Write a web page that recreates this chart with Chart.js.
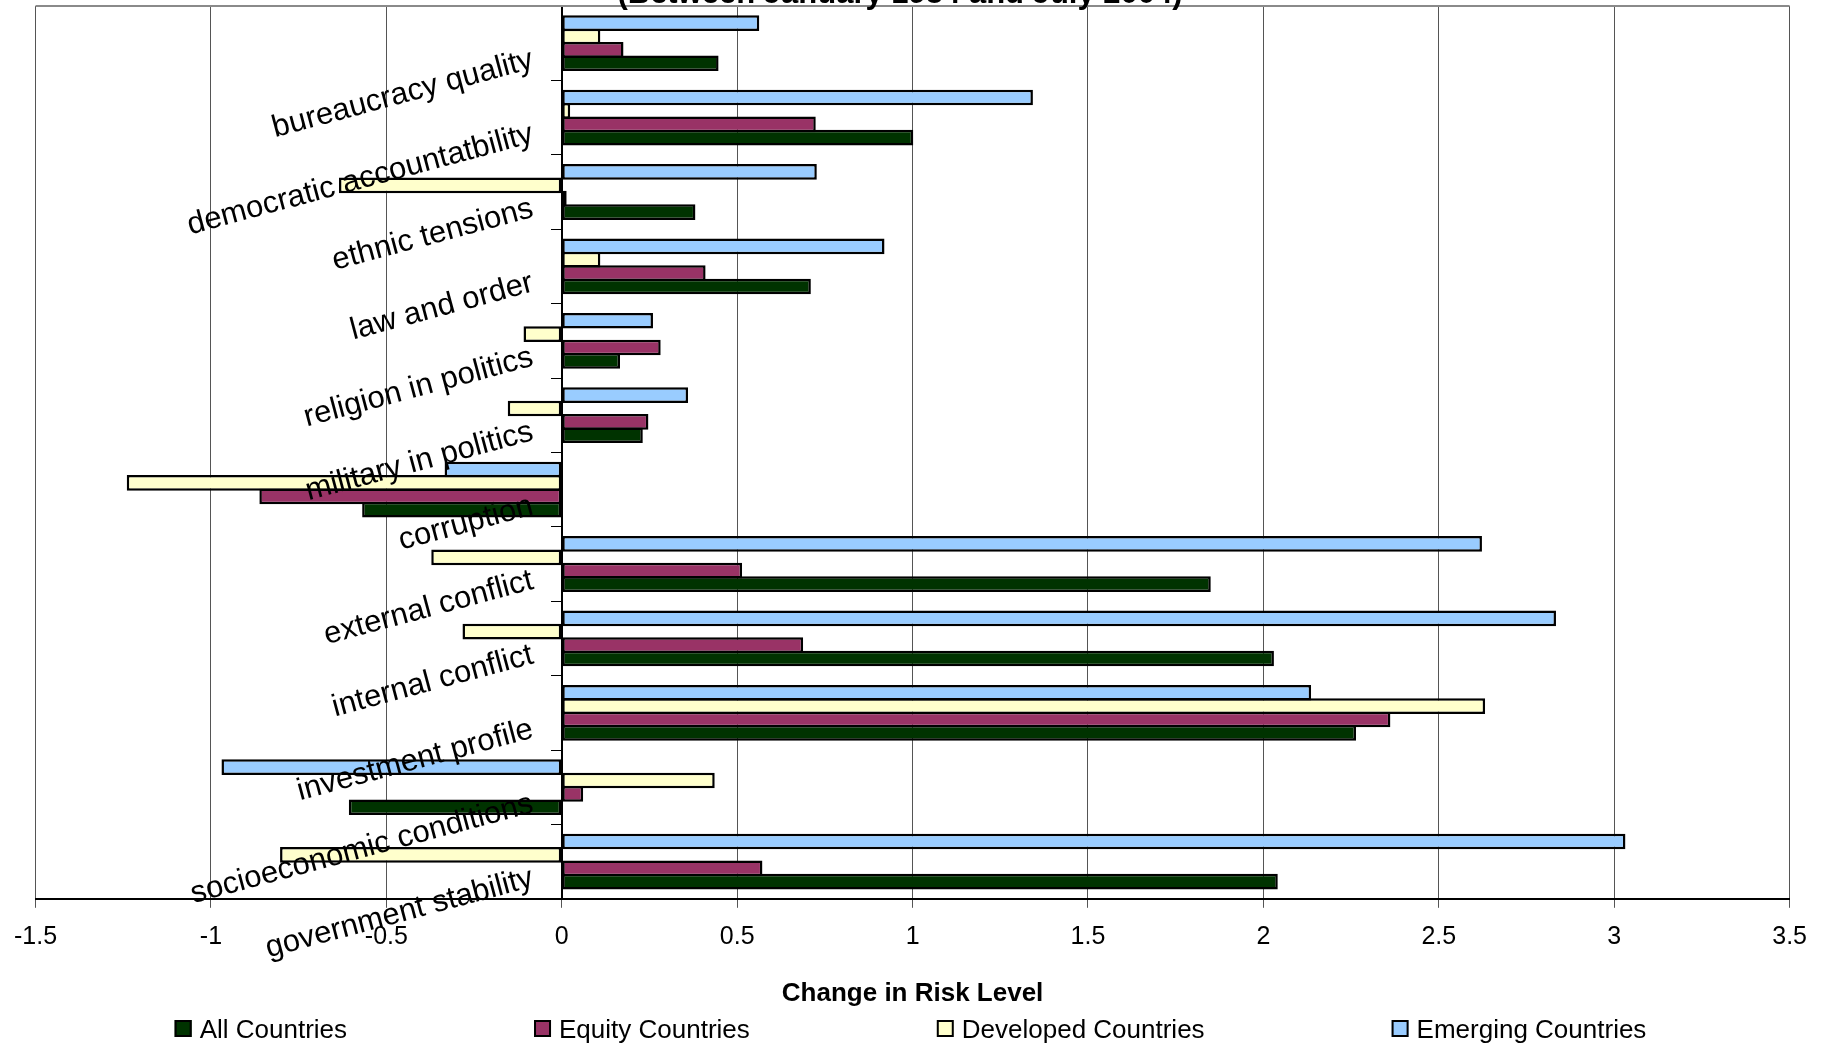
<!DOCTYPE html>
<html>
<head>
<meta charset="utf-8">
<title>Change in Risk Level</title>
<script src="https://cdn.jsdelivr.net/npm/chart.js@4/dist/chart.umd.min.js"></script>
<style>
  html, body { margin: 0; padding: 0; background: #ffffff; }
  #wrap { width: 1821px; height: 1046px; position: relative; }
</style>
</head>
<body>
<div id="wrap"><canvas id="chart"></canvas></div>
<script>
// ICRG risk components, listed from the top of the chart downwards
const categories = [
  'bureaucracy quality',
  'democratic accountatbility',
  'ethnic tensions',
  'law and order',
  'religion in politics',
  'military in politics',
  'corruption',
  'external conflict',
  'internal conflict',
  'investment profile',
  'socioeconomic conditions',
  'government stability'
];

// Change in risk level for each country group (same order as categories)
const allCountries       = [0.447, 1.002, 0.381, 0.710, 0.166, 0.231, -0.569, 1.850, 2.030, 2.264, -0.607, 2.041];
const equityCountries    = [0.176, 0.724, 0.014, 0.410, 0.282, 0.247, -0.862, 0.514, 0.688, 2.362, 0.061, 0.572];
const developedCountries = [0.110, 0.024, -0.635, 0.110, -0.109, -0.154, -1.240, -0.372, -0.283, 2.632, 0.436, -0.803];
const emergingCountries  = [0.563, 1.343, 0.727, 0.920, 0.260, 0.360, -0.334, 2.623, 2.834, 2.136, -0.970, 3.032];

const seriesNames = ['All Countries', 'Equity Countries', 'Developed Countries', 'Emerging Countries'];
const tickValues = [-1.5, -1, -0.5, 0, 0.5, 1, 1.5, 2, 2.5, 3, 3.5];

const chartTitle = '(Between January 1984 and July 2004)';
const axisTitle = 'Change in Risk Level';

const FONT = '"Liberation Sans", Arial, Helvetica, sans-serif';

// Gray frame along the top of the plot area
const plotFrame = {
  id: 'plotFrame',
  beforeDatasetsDraw(chart) {
    const { ctx, chartArea } = chart;
    ctx.save();
    ctx.strokeStyle = '#8a8a8a';
    ctx.lineWidth = 2;
    ctx.beginPath();
    ctx.moveTo(chartArea.left, chartArea.top);
    ctx.lineTo(chartArea.right, chartArea.top);
    ctx.stroke();
    ctx.restore();
  }
};

// Slanted category names next to the zero axis
const categoryLabels = {
  id: 'categoryLabels',
  afterDatasetsDraw(chart) {
    const { ctx, scales } = chart;
    const anchorX = scales.x.getPixelForValue(0) - 27;
    ctx.save();
    ctx.font = '31px ' + FONT;
    ctx.fillStyle = '#000000';
    ctx.textAlign = 'right';
    ctx.textBaseline = 'alphabetic';
    chart.data.labels.forEach((name, i) => {
      const py = scales.y.getPixelForValue(i) + 24.5;
      ctx.save();
      ctx.translate(anchorX, py);
      ctx.rotate(-15 * Math.PI / 180);
      ctx.fillText(name, 0, 0);
      ctx.restore();
    });
    ctx.restore();
  }
};

// Title line clipped at the top edge, and the legend row at the bottom
const titleAndLegend = {
  id: 'titleAndLegend',
  afterDraw(chart) {
    const { ctx } = chart;
    ctx.save();
    ctx.fillStyle = '#000000';
    ctx.font = 'bold 31px ' + FONT;
    ctx.textAlign = 'center';
    ctx.textBaseline = 'alphabetic';
    ctx.fillText(chartTitle, 900, 3);

    const items = chart.data.datasets.slice().reverse();
    ctx.font = '26px ' + FONT;
    ctx.textAlign = 'left';
    const box = 17, textGap = 8, itemGap = 187;
    const widths = items.map(d => box + textGap + ctx.measureText(d.label).width);
    const total = widths.reduce((a, b) => a + b, 0) + itemGap * (items.length - 1);
    let x = chart.width / 2 - total / 2;
    const baseY = chart.height - 8;
    items.forEach((d, i) => {
      ctx.fillStyle = d.backgroundColor;
      ctx.fillRect(x, baseY - 18, box, box);
      ctx.strokeStyle = '#000000';
      ctx.lineWidth = 2;
      ctx.strokeRect(x + 1, baseY - 17, box - 2, box - 2);
      ctx.fillStyle = '#000000';
      ctx.fillText(d.label, x + box + textGap, baseY);
      x += widths[i] + itemGap;
    });
    ctx.restore();
  }
};

new Chart(document.getElementById('chart'), {
  type: 'bar',
  data: {
    labels: categories,
    datasets: [
      { label: seriesNames[3], data: emergingCountries,  backgroundColor: '#99CCFF' },
      { label: seriesNames[2], data: developedCountries, backgroundColor: '#FFFFCC' },
      { label: seriesNames[1], data: equityCountries,    backgroundColor: '#993366' },
      { label: seriesNames[0], data: allCountries,       backgroundColor: '#003300' }
    ]
  },
  options: {
    indexAxis: 'y',
    responsive: true,
    maintainAspectRatio: false,
    animation: false,
    devicePixelRatio: 1,
    layout: { padding: { top: 6, left: 33, right: 31, bottom: 36.5 } },
    datasets: {
      bar: {
        categoryPercentage: 0.72,
        barPercentage: 1.17,
        borderColor: '#000000',
        borderWidth: 2.5,
        borderSkipped: false
      }
    },
    plugins: {
      legend: { display: false },
      title: { display: false },
      tooltip: { enabled: false }
    },
    scales: {
      x: {
        type: 'linear',
        position: 'bottom',
        min: -1.5,
        max: 3.5,
        afterBuildTicks: (scale) => { scale.ticks = tickValues.map(v => ({ value: v })); },
        ticks: {
          font: { family: FONT, size: 25 },
          color: '#000000',
          padding: 14,
          callback: (v) => String(v)
        },
        grid: { color: '#555555', lineWidth: 1, tickLength: 9, drawTicks: true },
        border: { color: '#000000', width: 2 },
        title: {
          display: true,
          text: axisTitle,
          font: { family: FONT, size: 26, weight: 'bold' },
          color: '#000000',
          padding: { top: 12.5, bottom: 0 }
        }
      },
      y: {
        type: 'category',
        position: { x: 0 },
        offset: true,
        ticks: { display: false },
        grid: { offset: true, drawOnChartArea: false, drawTicks: true, tickLength: 10, color: '#000000', lineWidth: 1 },
        border: { color: '#000000', width: 2 }
      }
    }
  },
  plugins: [plotFrame, categoryLabels, titleAndLegend]
});
</script>
</body>
</html>
